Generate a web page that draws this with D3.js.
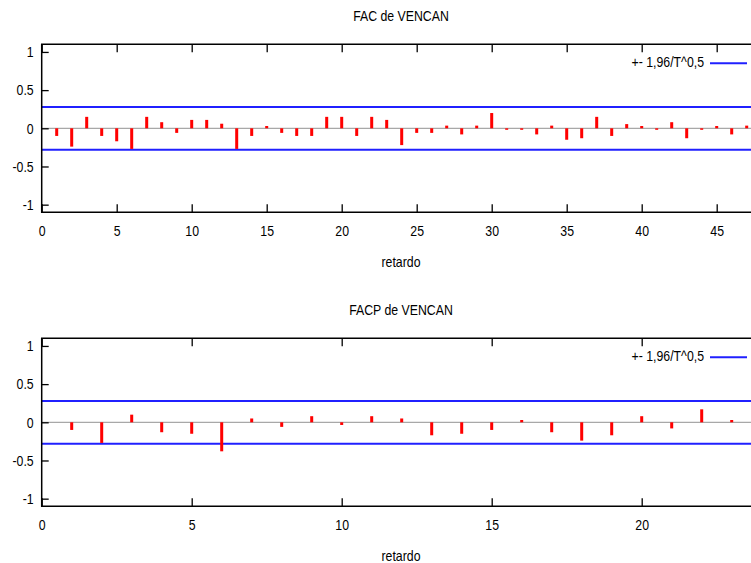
<!DOCTYPE html>
<html>
<head>
<meta charset="utf-8">
<script src="https://cdn.jsdelivr.net/npm/d3@7"></script>
<style>
  body { margin: 0; background: #fff; }
  text { font-family: "Liberation Sans", Arial, sans-serif; font-size: 15px; fill: #000; }
</style>
</head>
<body>
<div id="chart"></div>
<script>
// autocorrelation (FAC) by lag
var facLags = d3.range(1, 48);
var facValues = [-0.10, -0.24, 0.15, -0.10, -0.17, -0.27, 0.15, 0.08, -0.06, 0.11,
                 0.11, 0.06, -0.27, -0.10, 0.03, -0.06, -0.10, -0.10, 0.15, 0.15,
                 -0.10, 0.15, 0.11, -0.22, -0.06, -0.06, 0.035, -0.08, 0.035, 0.20,
                 -0.01, -0.01, -0.08, 0.035, -0.15, -0.13, 0.15, -0.10, 0.055, 0.03,
                 -0.01, 0.08, -0.13, -0.01, 0.03, -0.08, 0.035];

// partial autocorrelation (FACP) by lag
var facpLags = d3.range(1, 24);
var facpValues = [-0.10, -0.27, 0.10, -0.13, -0.15, -0.38, 0.05, -0.06, 0.08, -0.035,
                  0.08, 0.05, -0.17, -0.15, -0.10, 0.03, -0.13, -0.24, -0.17, 0.08,
                  -0.08, 0.17, 0.03];

var bound = 0.28;           // +- 1,96/T^0,5
var yTicks = [-1, -0.5, 0, 0.5, 1];
var legendLabel = "+- 1,96/T^0,5";

var width = 751, height = 563;

var svg = d3.select("#chart")
  .append("svg")
    .attr("width", width)
    .attr("height", height);

function drawPanel(opts) {
  var x = d3.scaleLinear()
    .domain([0, opts.xMax])
    .range([41.7, 761.7]);
  var y = d3.scaleLinear()
    .domain([-1.1, 1.1])
    .range([opts.top + 168, opts.top]);

  var g = svg.append("g");

  // title
  g.append("text")
    .attr("x", 401)
    .attr("y", opts.top - 23.5)
    .attr("text-anchor", "middle")
    .text(opts.title);

  // zero line
  g.append("line")
    .attr("x1", x(0)).attr("x2", x(opts.xMax))
    .attr("y1", y(0)).attr("y2", y(0))
    .attr("stroke", "#a8a8a8")
    .attr("stroke-width", 1.2);

  // confidence bands
  [bound, -bound].forEach(function(b) {
    g.append("line")
      .attr("x1", x(0)).attr("x2", x(opts.xMax))
      .attr("y1", y(b)).attr("y2", y(b))
      .attr("stroke", "#2020ff")
      .attr("stroke-width", 2);
  });

  // bars
  g.append("g")
    .selectAll("rect")
    .data(opts.lags.map(function(l, i) { return {lag: l, v: opts.values[i]}; }))
    .enter()
    .append("rect")
      .attr("x", function(d) { return x(d.lag) - 1.5; })
      .attr("y", function(d) { return Math.min(y(d.v), y(0)); })
      .attr("width", 3)
      .attr("height", function(d) { return Math.max(Math.abs(y(d.v) - y(0)), 1.5); })
      .attr("fill", "#ff0000");

  // axes with inward ticks
  var xTicks = d3.range(0, opts.xMax, 5);
  var bottom = g.append("g")
    .attr("transform", "translate(0," + y(-1.1) + ")")
    .call(d3.axisBottom(x).tickValues(xTicks).tickSize(-8).tickPadding(13).tickFormat(d3.format("d")));
  var topAx = g.append("g")
    .attr("transform", "translate(0," + y(1.1) + ")")
    .call(d3.axisTop(x).tickValues(xTicks).tickSize(-8).tickFormat(""));
  var left = g.append("g")
    .attr("transform", "translate(" + x(0) + ",0)")
    .call(d3.axisLeft(y).tickValues(yTicks).tickSize(-7).tickPadding(8).tickFormat(function(d) { return String(d); }));

  [bottom, topAx, left].forEach(function(a) {
    a.select(".domain").remove();
    a.selectAll("line").attr("stroke", "#000").attr("stroke-width", 1.3);
    a.selectAll("text").attr("fill", "#000").attr("font-size", null).attr("font-family", null);
  });
  bottom.attr("font-size", null).attr("font-family", null);
  left.attr("font-size", null).attr("font-family", null);

  // frame (right side falls outside the window)
  g.append("path")
    .attr("d", "M" + x(opts.xMax) + "," + y(1.1) + "H" + x(0) + "V" + y(-1.1) + "H" + x(opts.xMax))
    .attr("fill", "none")
    .attr("stroke", "#000")
    .attr("stroke-width", 1.5);

  // x label
  g.append("text")
    .attr("x", 401)
    .attr("y", opts.top + 223)
    .attr("text-anchor", "middle")
    .text("retardo");

  // legend
  var ly = y(1.1) + 19;
  g.append("text")
    .attr("x", 704)
    .attr("y", ly + 4)
    .attr("text-anchor", "end")
    .text(legendLabel);
  g.append("line")
    .attr("x1", 710).attr("x2", 747)
    .attr("y1", ly).attr("y2", ly)
    .attr("stroke", "#2020ff")
    .attr("stroke-width", 2);
}

drawPanel({title: "FAC de VENCAN", top: 44.3, xMax: 48, lags: facLags, values: facValues});
drawPanel({title: "FACP de VENCAN", top: 338.3, xMax: 24, lags: facpLags, values: facpValues});

// the source glyphs are horizontally narrow: squeeze every label
svg.selectAll("text").each(function() {
  var w = this.getComputedTextLength();
  if (w > 0) {
    d3.select(this)
      .attr("textLength", w * 0.82)
      .attr("lengthAdjust", "spacingAndGlyphs");
  }
});
</script>
</body>
</html>
